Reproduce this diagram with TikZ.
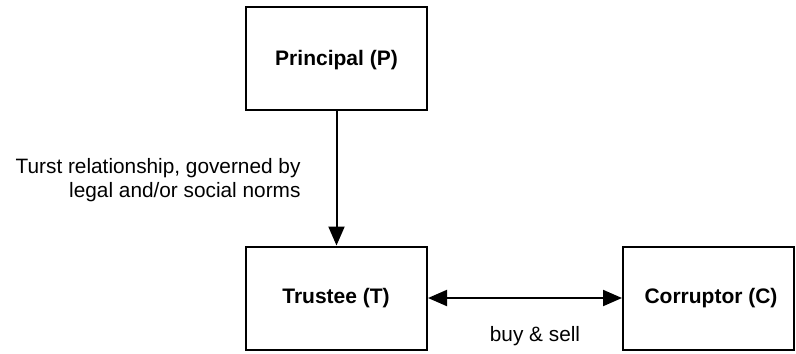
\documentclass[tikz,border=0pt]{standalone}
\usepackage{fontspec}
\setmainfont{Liberation Sans}
\usetikzlibrary{arrows.meta}
\begin{document}
\begin{tikzpicture}[x=1bp,y=-1bp,
  box/.style={draw,line width=2bp,inner sep=0pt},
  boxlabel/.style={font=\fontsize{21bp}{25bp}\selectfont\bfseries},
  plainlabel/.style={font=\fontsize{20.8bp}{24bp}\selectfont},
  link/.style={line width=2bp,-{Triangle[length=19bp,width=16bp]}},
  twoway/.style={line width=2bp,{Triangle[length=19bp,width=16bp]}-{Triangle[length=19bp,width=16bp]}}]
\useasboundingbox (0,0) rectangle (796,353);
% boxes
\node[box,minimum width=181bp,minimum height=103bp] (P) at (336.5,58.5) {};
\node[box,minimum width=181bp,minimum height=103bp] (T) at (336.5,298) {};
\node[box,minimum width=171bp,minimum height=103bp] (C) at (708.5,298) {};
% box captions
\node[boxlabel] (Pl) at (336.5,60) {Principal (P)};
\node[boxlabel] (Tl) at (336,298) {Trustee (T)};
\node[boxlabel] (Cl) at (711,298) {Corruptor (C)};
% connectors
\draw[link] (P.south) -- (T.north);
\draw[twoway] (T.east) -- (C.west);
% connector labels
\node[plainlabel,anchor=east,align=right] (rel) at (304,180) {Turst relationship, governed by\\legal and/or social norms};
\node[plainlabel] (bs) at (535,336) {buy \& sell};
\end{tikzpicture}
\end{document}
